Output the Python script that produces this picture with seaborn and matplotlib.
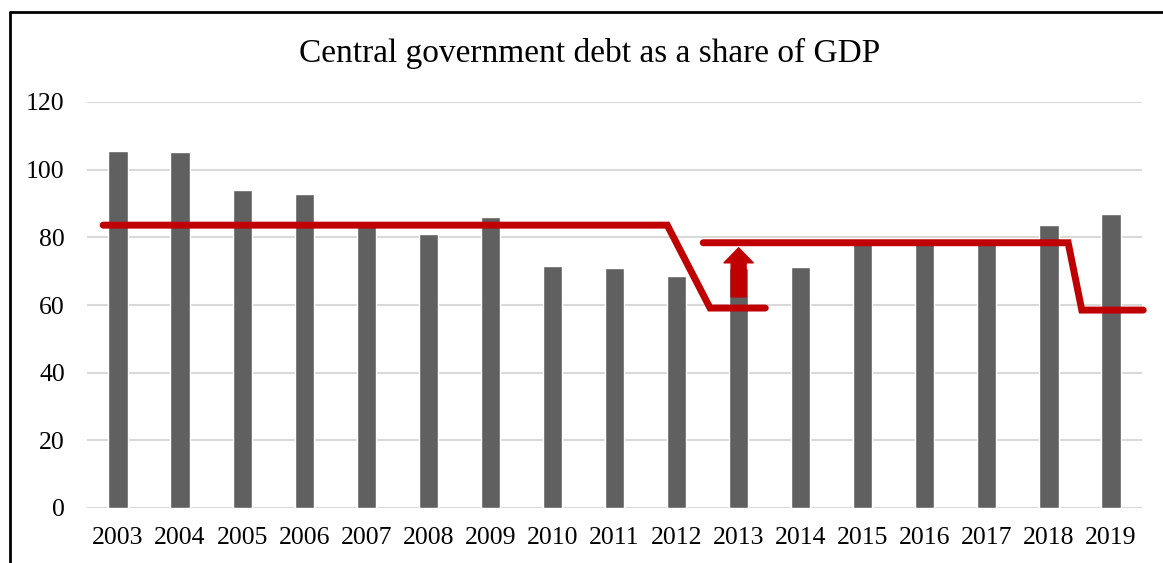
import matplotlib
matplotlib.use("Agg")
import matplotlib.pyplot as plt
import seaborn as sns
import pandas as pd
from matplotlib.lines import Line2D
from matplotlib.patches import FancyArrowPatch

years = ["2003", "2004", "2005", "2006", "2007", "2008", "2009", "2010", "2011",
         "2012", "2013", "2014", "2015", "2016", "2017", "2018", "2019"]
debt = [105.5, 105.2, 93.9, 92.8, 84.9, 81.0, 86.0, 71.5, 71.0,
        68.6, 71.0, 71.2, 79.1, 79.1, 78.6, 83.5, 86.8]

# red annotation path levels (share of GDP)
level_a_high = 83.6
level_a_low = 59.1
level_b_high = 78.4
level_b_low = 58.5
arrow_from, arrow_to = 62.4, 76.9
yticks = [0, 20, 40, 60, 80, 100, 120]

sns.set_theme(style="white")
plt.rcParams["font.family"] = ["Liberation Serif", "DejaVu Serif"]

df = pd.DataFrame({"year": years, "debt": debt})

fig = plt.figure(figsize=(11.63, 5.63), dpi=100)
ax = fig.add_axes([87 / 1163, 55 / 563, (1142 - 87) / 1163, (508 - 102) / 563])

ax.set_axisbelow(True)
for t in yticks:
    ax.axhline(t, color="#d9d9d9", lw=1.5, zorder=0)

sns.barplot(data=df, x="year", y="debt", color="#606060", saturation=1,
            width=0.31, ax=ax, zorder=2)

red = "#C00000"
ax.plot([-0.24, 8.85, 9.54, 10.43],
        [level_a_high, level_a_high, level_a_low, level_a_low],
        color=red, lw=5, solid_joinstyle="miter", zorder=4)
ax.plot([9.43, 15.31, 15.53, 16.52],
        [level_b_high, level_b_high, level_b_low, level_b_low],
        color=red, lw=5, solid_joinstyle="miter", zorder=4, clip_on=False)

arr = FancyArrowPatch((10, arrow_from), (10, arrow_to),
                      arrowstyle="simple,head_length=10.8,head_width=21,tail_width=10.8",
                      mutation_scale=1, color=red, shrinkA=0, shrinkB=0, zorder=5)
ax.add_patch(arr)

ax.set_xlim(-0.5, 16.5)
ax.set_ylim(0, 120)
ax.set_yticks(yticks)
ax.set_xlabel("")
ax.set_ylabel("")
for s in ax.spines.values():
    s.set_visible(False)
ax.tick_params(axis="both", length=0, labelsize=18.5, colors="black")
ax.tick_params(axis="y", pad=16)
ax.tick_params(axis="x", pad=14)
ax.grid(False)

fig.text(590 / 1163, 1 - 53 / 563, "Central government debt as a share of GDP",
         ha="center", va="center", fontsize=24, color="black")

# outer frame (top and left)
fig.add_artist(Line2D([10 / 1163, 1.0], [1 - 12 / 563, 1 - 12 / 563],
                      color="black", lw=2, transform=fig.transFigure))
fig.add_artist(Line2D([10 / 1163, 10 / 1163], [0, 1 - 12 / 563],
                      color="black", lw=2, transform=fig.transFigure))

fig.savefig("out.png", dpi=100)
